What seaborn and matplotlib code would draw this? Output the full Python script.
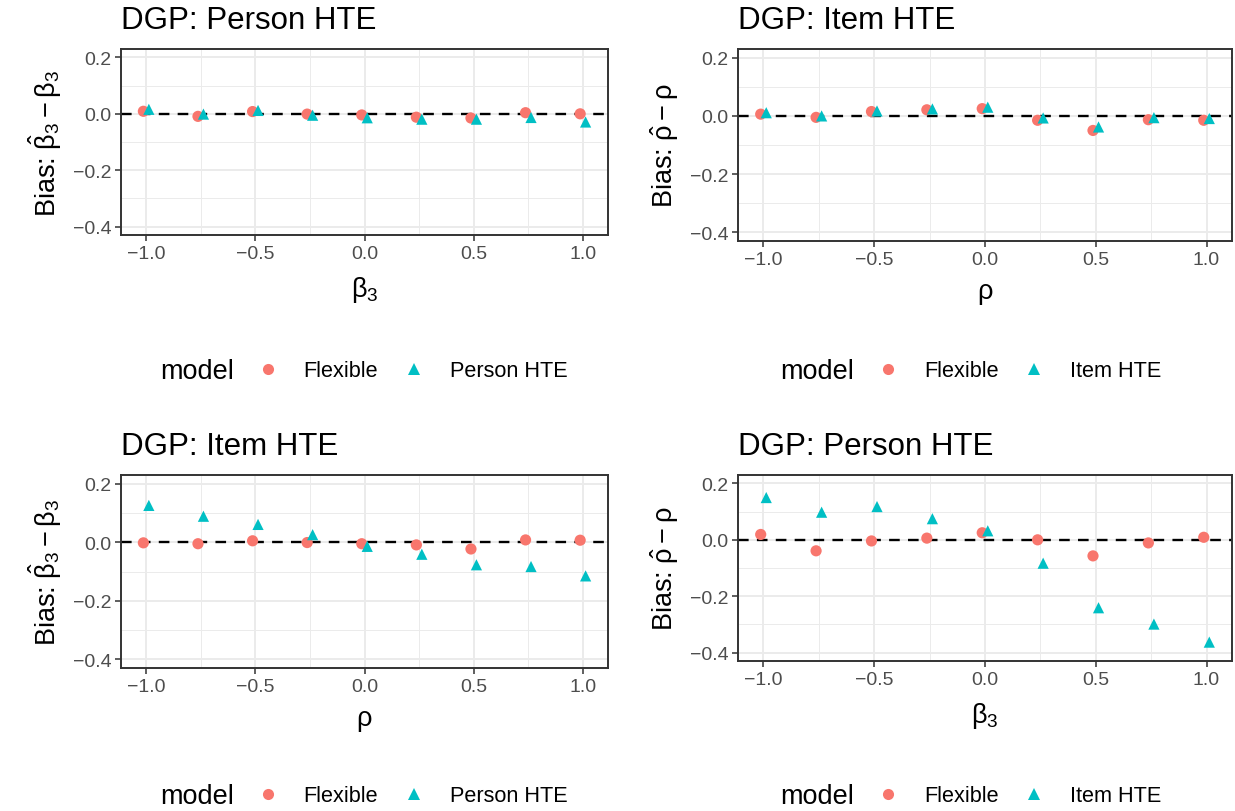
import numpy as np
import pandas as pd
import matplotlib.pyplot as plt
from matplotlib.lines import Line2D
from matplotlib.ticker import MultipleLocator
import seaborn as sns

# x grid shared by every panel (beta_3 or rho)
x_grid = [-1.0, -0.75, -0.5, -0.25, 0.0, 0.25, 0.5, 0.75, 1.0]

# top-left: DGP Person HTE, bias of beta_3
p1_flex = [0.009, -0.009, 0.008, -0.001, -0.004, -0.012, -0.015, 0.004, 0.000]
p1_hte = [0.016, -0.001, 0.012, -0.005, -0.014, -0.019, -0.019, -0.013, -0.029]
# top-right: DGP Item HTE, bias of rho
p2_flex = [0.006, -0.005, 0.015, 0.021, 0.025, -0.015, -0.050, -0.013, -0.015]
p2_hte = [0.011, 0.000, 0.017, 0.024, 0.030, -0.007, -0.038, -0.006, -0.009]
# bottom-left: DGP Item HTE, bias of beta_3
p3_flex = [-0.002, -0.005, 0.005, -0.001, -0.005, -0.009, -0.023, 0.008, 0.007]
p3_hte = [0.126, 0.089, 0.061, 0.026, -0.014, -0.041, -0.077, -0.083, -0.115]
# bottom-right: DGP Person HTE, bias of rho
p4_flex = [0.019, -0.039, -0.004, 0.006, 0.025, 0.000, -0.057, -0.011, 0.009]
p4_hte = [0.150, 0.098, 0.118, 0.075, 0.032, -0.083, -0.241, -0.299, -0.363]

RED = "#F8766D"
CYAN = "#00BFC4"
DODGE = 0.0125

sns.set_style("white")
plt.rcParams["font.family"] = ["Liberation Sans", "DejaVu Sans"]
plt.rcParams["text.color"] = "black"
plt.rcParams["axes.labelcolor"] = "black"
plt.rcParams["mathtext.fontset"] = "custom"
plt.rcParams["mathtext.rm"] = "Liberation Sans"
plt.rcParams["mathtext.it"] = "Liberation Sans"
plt.rcParams["mathtext.bf"] = "Liberation Sans:bold"

W, H = 1235, 812
fig = plt.figure(figsize=(W / 100, H / 100), dpi=100)


def px_axes(left, top, right, bottom):
    return fig.add_axes([left / W, 1 - bottom / H, (right - left) / W, (bottom - top) / H])


def panel(ax, flex, hte, other, title, xlabel, ylabel):
    df = pd.DataFrame({
        "x": [v - DODGE for v in x_grid] + [v + DODGE for v in x_grid],
        "bias": flex + hte,
        "model": ["Flexible"] * len(x_grid) + [other] * len(x_grid),
    })
    ax.axhline(0, color="black", lw=1.7, ls=(0, (4.5, 3.5)), zorder=2)
    sns.scatterplot(data=df, x="x", y="bias", hue="model", style="model",
                    palette={"Flexible": RED, other: CYAN},
                    markers={"Flexible": "o", other: "^"},
                    s=65, linewidth=0, legend=False, ax=ax, zorder=3)
    ax.set_xlim(-1.115, 1.115)
    ax.set_ylim(-0.43, 0.23)
    ax.xaxis.set_minor_locator(MultipleLocator(0.25))
    ax.yaxis.set_minor_locator(MultipleLocator(0.1))
    ax.set_xticks([-1.0, -0.5, 0.0, 0.5, 1.0])
    ax.set_xticklabels(["\u22121.0", "\u22120.5", "0.0", "0.5", "1.0"])
    ax.set_yticks([-0.4, -0.2, 0.0, 0.2])
    ax.set_yticklabels(["\u22120.4", "\u22120.2", "0.0", "0.2"])
    ax.grid(which="major", color="#EBEBEB", lw=1.4, zorder=0)
    ax.grid(which="minor", color="#EBEBEB", lw=0.7, zorder=0)
    ax.set_axisbelow(True)
    for sp in ax.spines.values():
        sp.set_color("#333333")
        sp.set_linewidth(1.4)
    ax.tick_params(which="major", length=4, width=1.1, color="#333333",
                   labelsize=14, labelcolor="#4D4D4D", pad=3, direction="out",
                   bottom=True, left=True)
    ax.tick_params(which="minor", length=0)
    ax.set_xlabel(xlabel, fontsize=19.5, labelpad=9)
    ax.set_ylabel(ylabel, fontsize=19.5, labelpad=6)
    ax.set_title(title, loc="left", fontsize=22.5, pad=15)


def legend_row(ax, other, y):
    cx = (ax.get_position().x0 + ax.get_position().x1) / 2 * W
    handles = [
        Line2D([], [], marker="o", color=RED, ls="", markersize=8, markeredgewidth=0),
        Line2D([], [], marker="^", color=CYAN, ls="", markersize=9, markeredgewidth=0),
    ]
    fig.legend(handles, ["Flexible", other], ncol=2, frameon=False,
               loc="center left", bbox_to_anchor=((cx - 107.5) / W, y),
               fontsize=15.6, handlelength=1.0, handletextpad=1.15,
               columnspacing=1.15, borderpad=0, borderaxespad=0)
    fig.text((cx - 204.5) / W, y, "model", fontsize=19.5, va="center", ha="left")


ylab_beta = r"Bias: $\hat{\beta}_3 - \beta_3$"
ylab_rho = r"Bias: $\hat{\rho} - \rho$"

ax1 = px_axes(121, 50, 608, 236)
panel(ax1, p1_flex, p1_hte, "Person HTE", "DGP: Person HTE", r"$\beta_3$", ylab_beta)
ax2 = px_axes(738, 50, 1232, 242)
panel(ax2, p2_flex, p2_hte, "Item HTE", "DGP: Item HTE", r"$\rho$", ylab_rho)
ax3 = px_axes(121, 476, 608, 669)
panel(ax3, p3_flex, p3_hte, "Person HTE", "DGP: Item HTE", r"$\rho$", ylab_beta)
ax4 = px_axes(738, 476, 1232, 662)
panel(ax4, p4_flex, p4_hte, "Item HTE", "DGP: Person HTE", r"$\beta_3$", ylab_rho)

legend_row(ax1, "Person HTE", 1 - 372 / H)
legend_row(ax2, "Item HTE", 1 - 372 / H)
legend_row(ax3, "Person HTE", 1 - 797 / H)
legend_row(ax4, "Item HTE", 1 - 797 / H)

fig.savefig("out.png", dpi=100)
